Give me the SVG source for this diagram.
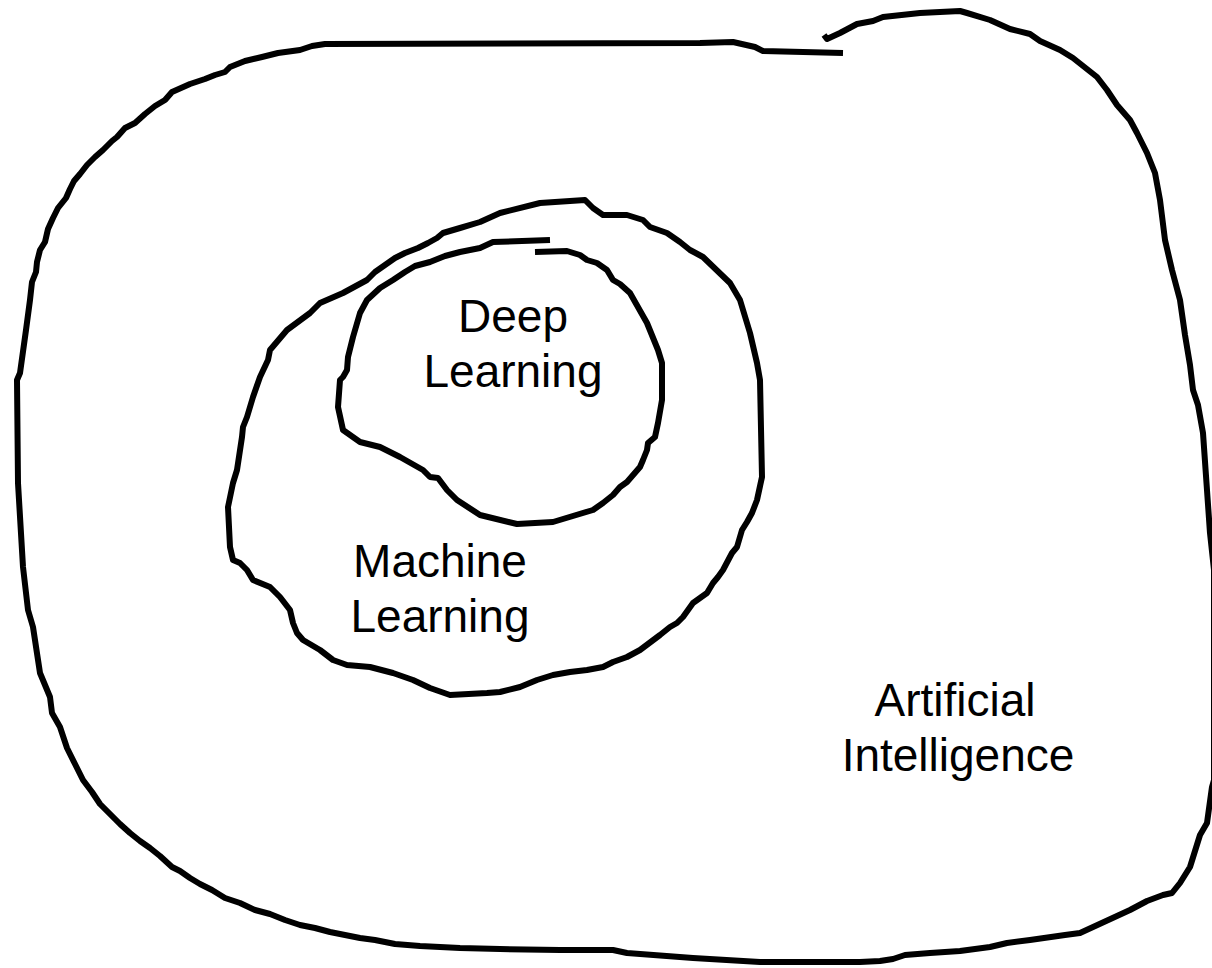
<svg xmlns="http://www.w3.org/2000/svg" width="1212" height="968" viewBox="0 0 1212 968">
<style>
.loop{fill:none;stroke:#000;stroke-width:6;stroke-linejoin:round;stroke-linecap:butt}
.lbl{font-family:"Liberation Sans",Arial,sans-serif;font-size:46px;fill:#000;text-anchor:middle}
</style>
<rect width="1212" height="968" fill="#fff"/>
<g id="ai">
<path class="loop" d="M824,35 L827,39 L840,33 L857,24 L873,21 L883,17 L920,13 L960,11 L967,13 L990,20 L1010,29 L1030,34 L1040,41 L1060,50 L1073,58 L1097,77 L1107,90 L1117,105 L1130,120 L1137,133 L1147,153 L1155,173 L1160,200 L1165,240 L1172,270 L1180,300 L1185,335 L1190,365 L1193,390 L1198,405 L1203,433 L1210,533 L1214,570 L1214,780 L1212,787 L1207,823 L1200,835 L1190,867 L1180,883 L1172,893 L1163,895 L1147,901 L1130,910 L1080,933 L1065,935 L1030,940 L1007,943 L990,947 L960,951 L930,953 L905,955 L893,959 L880,961 L860,962 L760,962 L693,958 L627,953 L613,950 L560,950 L500,949 L460,948 L420,946 L395,944 L375,940 L360,938 L345,935 L330,932 L315,928 L300,925 L285,920 L270,914 L255,910 L240,903 L225,898 L212,890 L200,884 L190,878 L180,871 L172,867 L160,856 L150,848 L140,841 L130,833 L120,824 L110,814 L100,804 L92,792 L83,780 L75,764 L67,748 L60,727 L52,713 L50,697 L40,673 L33,627 L28,610 L23,567 L18,483 L17,380 L20,373 L26,330 L30,300 L32,282 L36,272 L37,262 L40,250 L45,242 L48,229 L53,218 L58,208 L66,198 L70,189 L74,181 L80,174 L87,165 L95,157 L103,150 L112,141 L117,137 L125,128 L135,123 L145,114 L155,106 L165,100 L172,92 L190,84 L205,79 L215,75 L225,72 L230,67 L245,61 L262,57 L278,53 L300,50 L312,46 L325,44 L700,43 L733,42 L755,47 L763,51 L843,53"/>
<text class="lbl" x="955" y="716">Artificial</text>
<text class="lbl" x="958" y="771">Intelligence</text>
</g>
<g id="ml">
<path class="loop" d="M585,200 L593,208 L603,215 L627,215 L643,220 L650,227 L667,233 L680,242 L690,250 L703,257 L730,283 L740,300 L750,333 L757,363 L760,380 L762,477 L757,500 L752,513 L747,522 L742,530 L737,547 L732,553 L723,570 L718,577 L713,583 L707,593 L693,603 L683,617 L677,623 L670,627 L660,635 L640,650 L627,657 L613,662 L603,667 L587,670 L570,672 L553,675 L537,680 L520,687 L500,692 L487,693 L450,695 L430,688 L413,680 L393,673 L370,667 L347,665 L333,660 L320,650 L303,640 L297,633 L293,623 L290,610 L280,597 L270,587 L253,580 L247,570 L240,563 L233,560 L230,547 L228,507 L233,483 L237,470 L242,437 L243,427 L247,417 L253,397 L260,377 L268,360 L270,350 L287,330 L310,313 L320,303 L343,293 L367,280 L375,272 L385,265 L395,258 L405,253 L418,248 L428,243 L437,238 L443,233 L460,228 L480,222 L500,213 L540,203 Z"/>
<text class="lbl" x="440" y="577">Machine</text>
<text class="lbl" x="440" y="632">Learning</text>
</g>
<g id="dl">
<path class="loop" d="M550,240 L493,242 L480,248 L460,252 L445,256 L430,262 L415,266 L405,272 L393,280 L380,288 L367,300 L360,313 L353,337 L348,357 L347,370 L343,377 L340,380 L338,407 L343,430 L360,442 L380,447 L400,457 L423,470 L430,477 L438,478 L447,490 L457,500 L480,515 L517,524 L553,522 L593,510 L603,503 L613,495 L620,487 L627,482 L640,467 L643,460 L647,450 L648,443 L655,437 L658,423 L662,400 L662,363 L658,350 L647,323 L630,293 L620,284 L613,280 L607,270 L597,263 L587,260 L580,255 L567,251 L535,252"/>
<text class="lbl" x="513" y="332">Deep</text>
<text class="lbl" x="513" y="387">Learning</text>
</g>
<g id="connectors"/>
</svg>
